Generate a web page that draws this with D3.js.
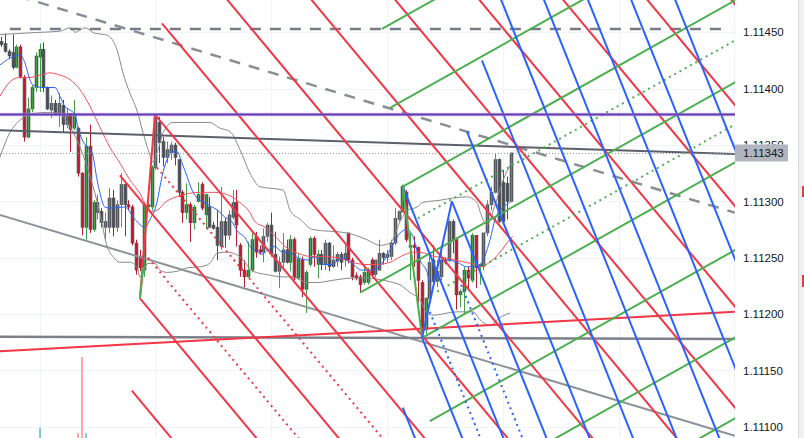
<!DOCTYPE html>
<html><head><meta charset="utf-8">
<script src="https://cdn.jsdelivr.net/npm/d3@7"></script>
<style>html,body{margin:0;padding:0;background:#fff;overflow:hidden}svg{display:block}</style>
</head><body><svg id="c" width="804" height="438"></svg>
<script>
// ---------- DATA ----------
const opens = [1.11442,1.11440,1.11433,1.11432,1.11419,1.11437,1.11410,1.11357,1.11382,1.11401,
1.11428,1.11435,1.11401,1.11381,1.11387,1.11378,1.11385,1.11368,1.11378,1.11365,
1.11365,1.11325,1.11277,1.11349,1.11275,1.11290,1.11291,1.11277,1.11277,1.11303,
1.11277,1.11297,1.11315,1.11297,1.11295,1.11263,1.11251,1.11239,1.11295,1.11295,
1.11330,1.11370,1.11353,1.11339,1.11343,1.11350,1.11337,1.11308,1.11290,1.11297,
1.11281,1.11300,1.11315,1.11288,1.11295,1.11279,1.11277,1.11260,1.11282,1.11270,
1.11286,1.11299,1.11261,1.11239,1.11233,1.11239,1.11269,1.11257,1.11255,1.11269,
1.11279,1.11253,1.11238,1.11246,1.11257,1.11246,1.11266,1.11232,1.11248,1.11222,
1.11244,1.11267,1.11244,1.11253,1.11244,1.11263,1.11242,1.11247,1.11253,1.11248,
1.11272,1.11248,1.11234,1.11233,1.11228,1.11228,1.11248,1.11235,1.11239,1.11254,
1.11250,1.11251,1.11263,1.11284,1.11291,1.11308,1.11259,1.11261,1.11259,1.11228,
1.11186,1.11214,1.11248,1.11229,1.11233,1.11248,1.11248,1.11282,1.11266,1.11217,
1.11220,1.11239,1.11230,1.11270,1.11242,1.11242,1.11272,1.11297,1.11308,1.11337,
1.11317,1.11316,1.11300];
const highs = [1.11446,1.11449,1.11435,1.11448,1.11439,1.11439,1.11412,1.11392,1.11403,1.11432,
1.11440,1.11441,1.11402,1.11394,1.11390,1.11396,1.11390,1.11383,1.11378,1.11390,
1.11366,1.11326,1.11357,1.11368,1.11301,1.11306,1.11294,1.11290,1.11312,1.11310,
1.11301,1.11325,1.11316,1.11301,1.11297,1.11266,1.11257,1.11299,1.11299,1.11332,
1.11377,1.11375,1.11357,1.11353,1.11353,1.11352,1.11337,1.11310,1.11316,1.11299,
1.11297,1.11317,1.11317,1.11307,1.11304,1.11282,1.11292,1.11313,1.11285,1.11292,
1.11310,1.11310,1.11263,1.11248,1.11264,1.11272,1.11273,1.11261,1.11276,1.11281,
1.11290,1.11273,1.11251,1.11272,1.11266,1.11270,1.11268,1.11253,1.11251,1.11239,
1.11269,1.11269,1.11257,1.11257,1.11266,1.11264,1.11261,1.11255,1.11255,1.11261,
1.11272,1.11250,1.11237,1.11235,1.11244,1.11241,1.11250,1.11248,1.11266,1.11255,
1.11257,1.11266,1.11294,1.11292,1.11315,1.11310,1.11272,1.11269,1.11260,1.11230,
1.11215,1.11254,1.11261,1.11248,1.11257,1.11250,1.11284,1.11284,1.11268,1.11222,
1.11242,1.11242,1.11272,1.11270,1.11245,1.11272,1.11301,1.11313,1.11343,1.11338,
1.11328,1.11322,1.11343];
const lows = [1.11437,1.11432,1.11427,1.11417,1.11418,1.11409,1.11353,1.11356,1.11379,1.11397,
1.11397,1.11397,1.11381,1.11374,1.11376,1.11366,1.11361,1.11365,1.11344,1.11363,
1.11322,1.11270,1.11266,1.11272,1.11273,1.11284,1.11277,1.11266,1.11272,1.11269,
1.11273,1.11277,1.11269,1.11292,1.11261,1.11235,1.11238,1.11233,1.11292,1.11292,
1.11328,1.11334,1.11331,1.11334,1.11337,1.11332,1.11304,1.11281,1.11284,1.11264,
1.11275,1.11299,1.11292,1.11275,1.11277,1.11275,1.11248,1.11257,1.11259,1.11266,
1.11284,1.11260,1.11233,1.11224,1.11232,1.11237,1.11250,1.11253,1.11246,1.11264,
1.11251,1.11237,1.11223,1.11239,1.11245,1.11238,1.11230,1.11230,1.11215,1.11201,
1.11242,1.11242,1.11232,1.11239,1.11239,1.11238,1.11241,1.11242,1.11239,1.11242,
1.11245,1.11230,1.11230,1.11219,1.11226,1.11226,1.11233,1.11233,1.11239,1.11244,
1.11246,1.11248,1.11261,1.11282,1.11290,1.11264,1.11230,1.11242,1.11210,1.11183,
1.11182,1.11213,1.11228,1.11224,1.11230,1.11244,1.11246,1.11254,1.11204,1.11206,
1.11201,1.11222,1.11228,1.11223,1.11226,1.11239,1.11269,1.11292,1.11307,1.11281,
1.11279,1.11284,1.11299];
const closes = [1.11439,1.11433,1.11429,1.11419,1.11437,1.11410,1.11357,1.11382,1.11401,1.11429,
1.11435,1.11401,1.11382,1.11387,1.11378,1.11387,1.11368,1.11377,1.11364,1.11378,
1.11325,1.11277,1.11349,1.11275,1.11299,1.11299,1.11281,1.11282,1.11303,1.11277,
1.11297,1.11315,1.11297,1.11295,1.11263,1.11239,1.11241,1.11297,1.11297,1.11330,
1.11375,1.11352,1.11339,1.11346,1.11350,1.11339,1.11308,1.11290,1.11297,1.11281,
1.11295,1.11306,1.11294,1.11306,1.11277,1.11276,1.11261,1.11282,1.11270,1.11288,
1.11299,1.11279,1.11239,1.11233,1.11239,1.11266,1.11255,1.11255,1.11269,1.11279,
1.11253,1.11238,1.11246,1.11257,1.11246,1.11266,1.11232,1.11249,1.11222,1.11237,
1.11267,1.11253,1.11253,1.11244,1.11263,1.11242,1.11248,1.11253,1.11246,1.11254,
1.11248,1.11233,1.11232,1.11226,1.11237,1.11239,1.11235,1.11248,1.11254,1.11250,
1.11253,1.11263,1.11285,1.11291,1.11313,1.11266,1.11261,1.11259,1.11230,1.11186,
1.11214,1.11246,1.11229,1.11238,1.11248,1.11246,1.11282,1.11266,1.11217,1.11220,
1.11239,1.11232,1.11270,1.11241,1.11244,1.11272,1.11297,1.11308,1.11337,1.11282,
1.11282,1.11300,1.11343];

// volume bars that rise above the bottom edge: [bar index, relative volume, up?]
const volumeBars = [[10,24,true],[20,18,false],[21,100,false],[22,18,true]];

// indicator lines, points: [bar index, price]
const bbUpper = [[-0.3,1.11448],[4.9,1.11449],[10.1,1.11450],[15.3,1.11451],[17.9,1.11454],[19.2,1.11450],[20.5,1.11452],[21.8,1.11454],[24.4,1.11449],[26.9,1.11448],[28.2,1.11446],[30.1,1.11434],[31.6,1.11414],[33.4,1.11396],[35.2,1.11381],[36.8,1.11361],[38.1,1.11346],[39.4,1.11335],[40.7,1.11346],[42.0,1.11361],[44.6,1.11370],[48.2,1.11370],[54.1,1.11370],[56.7,1.11365],[59.3,1.11362],[61.9,1.11346],[64.5,1.11325],[67.1,1.11313],[73.1,1.11310],[74.9,1.11292],[77.5,1.11284],[80.8,1.11275],[89.6,1.11272],[94.8,1.11266],[98.2,1.11261],[100.8,1.11263],[103.4,1.11282],[105.2,1.11292],[107.8,1.11295],[109.3,1.11299],[113.7,1.11301],[117.1,1.11303],[120.7,1.11304],[123.3,1.11299],[124.4,1.11288],[125.9,1.11279],[128.0,1.11297],[130.1,1.11319],[131.9,1.11332],[132.4,1.11335]];
const bbLower = [[-0.3,1.11339],[2.3,1.11361],[4.9,1.11372],[8.3,1.11378],[12.7,1.11379],[15.3,1.11377],[17.9,1.11366],[20.5,1.11348],[23.1,1.11322],[25.6,1.11290],[27.5,1.11260],[29.0,1.11251],[30.8,1.11246],[33.4,1.11246],[35.2,1.11242],[36.0,1.11233],[38.1,1.11245],[39.9,1.11245],[41.2,1.11239],[43.0,1.11237],[45.6,1.11238],[48.2,1.11241],[51.6,1.11242],[54.1,1.11245],[56.0,1.11254],[58.5,1.11255],[61.9,1.11251],[65.3,1.11238],[68.9,1.11235],[73.1,1.11233],[75.6,1.11233],[79.3,1.11228],[81.9,1.11228],[86.0,1.11230],[91.2,1.11232],[94.8,1.11232],[99.0,1.11230],[101.6,1.11228],[103.4,1.11226],[106.0,1.11219],[108.5,1.11213],[110.4,1.11201],[111.9,1.11199],[118.1,1.11202],[122.3,1.11202],[124.1,1.11195],[126.7,1.11190],[129.3,1.11197],[131.9,1.11201]];
const maFast = [[-0.3,1.11421],[2.3,1.11427],[4.9,1.11430],[6.2,1.11423],[7.5,1.11408],[8.3,1.11403],[10.9,1.11401],[14.0,1.11401],[15.3,1.11393],[16.6,1.11384],[17.9,1.11381],[19.2,1.11377],[19.9,1.11366],[21.0,1.11355],[22.3,1.11348],[23.6,1.11343],[24.9,1.11319],[25.6,1.11308],[26.9,1.11295],[28.2,1.11294],[32.1,1.11295],[34.7,1.11284],[37.3,1.11277],[38.6,1.11284],[40.4,1.11299],[41.7,1.11322],[43.0,1.11337],[44.3,1.11344],[45.6,1.11344],[46.9,1.11334],[48.2,1.11322],[49.5,1.11310],[50.8,1.11303],[52.1,1.11300],[54.7,1.11295],[56.2,1.11292],[58.0,1.11286],[59.8,1.11282],[61.4,1.11273],[63.2,1.11268],[64.5,1.11260],[65.8,1.11257],[67.6,1.11253],[69.2,1.11257],[71.0,1.11260],[72.8,1.11255],[74.4,1.11255],[76.9,1.11250],[79.5,1.11248],[81.3,1.11251],[83.2,1.11244],[85.8,1.11244],[88.3,1.11250],[90.9,1.11245],[93.5,1.11239],[96.1,1.11239],[98.7,1.11245],[100.8,1.11257],[103.4,1.11272],[105.2,1.11275],[106.7,1.11269],[108.5,1.11248],[110.4,1.11237],[111.1,1.11228],[111.9,1.11230],[113.7,1.11246],[115.5,1.11248],[118.1,1.11246],[120.7,1.11242],[123.3,1.11242],[124.9,1.11248],[126.7,1.11266],[128.0,1.11284],[130.1,1.11295],[131.9,1.11299]];
const maSlow = [[-0.3,1.11393],[2.3,1.11406],[4.9,1.11410],[7.5,1.11410],[10.1,1.11412],[12.7,1.11414],[15.3,1.11412],[17.9,1.11408],[20.5,1.11399],[23.1,1.11384],[25.6,1.11366],[28.2,1.11348],[30.8,1.11334],[33.4,1.11319],[36.0,1.11307],[37.8,1.11295],[39.1,1.11291],[40.4,1.11292],[42.5,1.11299],[46.4,1.11305],[51.6,1.11308],[55.4,1.11308],[59.3,1.11305],[61.9,1.11299],[64.5,1.11290],[65.8,1.11282],[68.4,1.11277],[71.0,1.11269],[73.6,1.11260],[76.9,1.11254],[80.6,1.11251],[83.9,1.11251],[87.3,1.11250],[90.9,1.11246],[94.3,1.11244],[97.7,1.11244],[100.8,1.11246],[104.7,1.11253],[107.3,1.11255],[109.8,1.11254],[112.4,1.11251],[115.0,1.11250],[117.6,1.11248],[120.2,1.11246],[122.8,1.11244],[124.6,1.11242],[126.2,1.11245],[128.0,1.11250],[129.8,1.11257],[131.3,1.11264],[132.6,1.11269]];

// drawing tools: parallel line families (start point [bar, price], common slope in price per bar)
const redSlope = -0.0000411;
const redStarts = [[33.9,1.11132],[36.0,1.11214],[30.8,1.11323],[39.9,1.11377],[41.7,1.11458],[56.4,1.11488],[78.2,1.11488],[99.9,1.11488],[121.7,1.11488],[143.4,1.11488],[165.2,1.11488],[187.0,1.11488]];
const redDotStarts = [[40.4,1.11330],[38.1,1.11250]];
const greenSlope = 0.0000192;
const greenStarts = [[98.7,1.11453],[100.8,1.11383],[104.1,1.11313],[93.0,1.11219],[109.1,1.11179],[111.1,1.11105],[139.6,1.11082],[178.5,1.11085]];
const greenDotStarts = [[108.0,1.11285],[113.0,1.11220]];
const blueSlope = -0.0000856;
const blueStarts = [[104.1,1.11313],[116.8,1.11300],[109.1,1.11179],[104.1,1.11117],[120.7,1.11362],[124.6,1.11425],[128.5,1.11488],[139.6,1.11488],[151.0,1.11488],[162.2,1.11488],[173.6,1.11488]];
const blueDotStarts = [[111.1,1.11202],[119.2,1.11226]];
// zigzag legs
const zigRed = [[36.0,1.11214],[39.9,1.11377]];
const zigGreenLeft = [[36.0,1.11214],[36.9,1.11242]];
const zigGreen = [[104.1,1.11313],[109.1,1.11179]];
const zigBlue = [[109.1,1.11179],[116.8,1.11300]];
// other trend / level lines
const purpleLevel = [[-2,1.11377],[200,1.11377]];
const darkTrend = [[-0.3,1.11363],[190.1,1.11342]];
const grayLevel = [[-0.3,1.11180],[190.1,1.11178]];
const redTrend = [[-0.3,1.11167],[190.1,1.11202]];
const grayTrend = [[-0.3,1.11288],[190.1,1.11092]];
const dashLevel = [[2.3,1.11453],[188.5,1.11453]];
const dashTrend = [[-0.3,1.11487],[190.1,1.11290]];
const lastPrice = 1.11343;
const priceTicks = [1.11100,1.11150,1.11200,1.11250,1.11300,1.11350,1.11400,1.11450];
const gridBars = [10,40,70,100,130,160,190];

// ---------- DRAW ----------
const W = 804, H = 438, plotW = 735;
const svg = d3.select('#c');
const x = d3.scaleLinear().domain([0,132]).range([1,510.5]);
const y = d3.scaleLinear().domain([1.11100,1.11450]).range([426.8,32.3]);
const ly = y(lastPrice);

const defs = svg.append('defs');
defs.append('clipPath').attr('id','clip')
  .append('rect').attr('x',0).attr('y',0).attr('width',plotW).attr('height',H);
defs.append('clipPath').attr('id','labelclip')
  .append('rect').attr('x',735).attr('y',0).attr('width',70).attr('height',ly-8.5);
svg.append('rect').attr('width',W).attr('height',H).attr('fill','#fff');

const plot = svg.append('g').attr('clip-path','url(#clip)');
// grid
plot.selectAll('.hg').data(priceTicks).enter().append('line')
  .attr('x1',0).attr('x2',plotW).attr('y1',d=>Math.round(y(d))+0.5).attr('y2',d=>Math.round(y(d))+0.5)
  .attr('stroke','#f0f3fa').attr('stroke-width',1);
plot.selectAll('.vg').data(gridBars).enter().append('line')
  .attr('y1',0).attr('y2',H).attr('x1',d=>Math.round(x(d))+0.5).attr('x2',d=>Math.round(x(d))+0.5)
  .attr('stroke','#f0f3fa').attr('stroke-width',1);

// volume (pane base lies below the visible bottom edge)
const vy = d3.scaleLinear().domain([0,100]).range([450,357]);
plot.selectAll('.vol').data(volumeBars).enter().append('rect')
  .attr('x',d=>Math.round(x(d[0]))-1).attr('width',2)
  .attr('y',d=>vy(d[1])).attr('height',d=>450-vy(d[1]))
  .attr('fill',d=>d[2]?'rgba(38,166,154,0.55)':'rgba(239,83,80,0.5)');

// candles
const idx = d3.range(opens.length);
const cg = plot.append('g');
idx.forEach(i=>{
  const cx = Math.round(x(i));
  const up = closes[i] >= opens[i];
  const top = y(Math.max(opens[i],closes[i])), bot = y(Math.min(opens[i],closes[i]));
  cg.append('rect').attr('x',cx-1).attr('width',3)
    .attr('y',top).attr('height',Math.max(1,bot-top))
    .attr('fill','#5d6068').attr('stroke','#3d4046').attr('stroke-width',0.5);
  cg.append('line').attr('x1',cx+0.5).attr('x2',cx+0.5)
    .attr('y1',y(highs[i])).attr('y2',y(lows[i]))
    .attr('stroke',up?'#43a047':'#b71c2c').attr('stroke-width',1);
});

// indicators
const curve = d3.line().x(d=>x(d[0])).y(d=>y(d[1])).curve(d3.curveMonotoneX);
plot.append('path').attr('d',curve(bbUpper)).attr('fill','none').attr('stroke','#8a8a8a').attr('stroke-width',1);
plot.append('path').attr('d',curve(bbLower)).attr('fill','none').attr('stroke','#8a8a8a').attr('stroke-width',1);
plot.append('path').attr('d',curve(maSlow)).attr('fill','none').attr('stroke','#f4525f').attr('stroke-width',1);
plot.append('path').attr('d',curve(maFast)).attr('fill','none').attr('stroke','#2962ff').attr('stroke-width',1);

// drawings
const seg = d3.line().x(d=>x(d[0])).y(d=>y(d[1]));
function ray(s, slope){ const e = 260; return [s,[e, s[1]+slope*(e-s[0])]]; }
function drawPath(pts, color, w, dash){
  const p = plot.append('path').attr('d',seg(pts)).attr('fill','none')
    .attr('stroke',color).attr('stroke-width',w);
  if(dash) p.attr('stroke-dasharray',dash);
  return p;
}
const RED='#f23645', GREEN='#4caf50', BLUE='#2962ff';

drawPath(grayTrend,'#8f929a',2);
drawPath(dashTrend,'#8a8d95',2.5,'11,9');
drawPath(dashLevel,'#787b86',2.5,'11,9');
drawPath(grayLevel,'#7d8089',2.5);
drawPath(darkTrend,'#5d606b',2);
drawPath(redTrend,RED,2);

redStarts.forEach(s=>drawPath(ray(s,redSlope),RED,2));
redDotStarts.forEach(s=>drawPath(ray(s,redSlope),RED,2,'2,4'));
greenStarts.forEach(s=>drawPath(ray(s,greenSlope),GREEN,2));
greenDotStarts.forEach(s=>drawPath(ray(s,greenSlope),GREEN,2,'2,4'));
blueStarts.forEach(s=>drawPath(ray(s,blueSlope),BLUE,2));
blueDotStarts.forEach(s=>drawPath(ray(s,blueSlope),BLUE,2,'2,4'));
drawPath(zigRed,RED,2);
drawPath(zigGreenLeft,GREEN,2);
drawPath(zigGreen,GREEN,2);
drawPath(zigBlue,BLUE,2);

drawPath(purpleLevel,'#b39ddb',3.5).attr('opacity',0.6);
drawPath(purpleLevel,'#673ab7',2);

// last price dotted line
plot.append('line').attr('x1',0).attr('x2',plotW)
  .attr('y1',Math.round(ly)+0.5).attr('y2',Math.round(ly)+0.5)
  .attr('stroke','#9598a1').attr('stroke-width',1).attr('stroke-dasharray','1,2');

// price axis
const font = '"Liberation Sans", Arial, sans-serif';
const ax = svg.append('g');
priceTicks.forEach(d=>{
  const t = ax.append('text').attr('x',743).attr('y',y(d)).attr('dy','0.36em')
    .attr('font-family',font).attr('font-size','11.5px')
    .attr('fill','#131722').text(d.toFixed(5));
  // the tick hidden behind the last-price badge only shows its upper part
  if (Math.abs(y(d)-ly) < 14) t.attr('clip-path','url(#labelclip)');
});
ax.append('rect').attr('x',735).attr('y',ly-8.5).attr('width',53).attr('height',17)
  .attr('rx',1).attr('fill','#b2b5be');
ax.append('text').attr('x',743).attr('y',ly).attr('dy','0.36em')
  .attr('font-family',font).attr('font-size','11.5px')
  .attr('fill','#131722').text(lastPrice.toFixed(5));

// right edge strip
svg.append('rect').attr('x',798).attr('y',0).attr('width',6).attr('height',H).attr('fill','#eef0f3');
svg.append('line').attr('x1',798.5).attr('x2',798.5).attr('y1',0).attr('y2',H).attr('stroke','#d6d8de');
svg.append('rect').attr('x',802).attr('y',186).attr('width',2).attr('height',11).attr('fill',RED);
svg.append('rect').attr('x',802).attr('y',275).attr('width',2).attr('height',12).attr('fill',RED);
</script></body></html>
